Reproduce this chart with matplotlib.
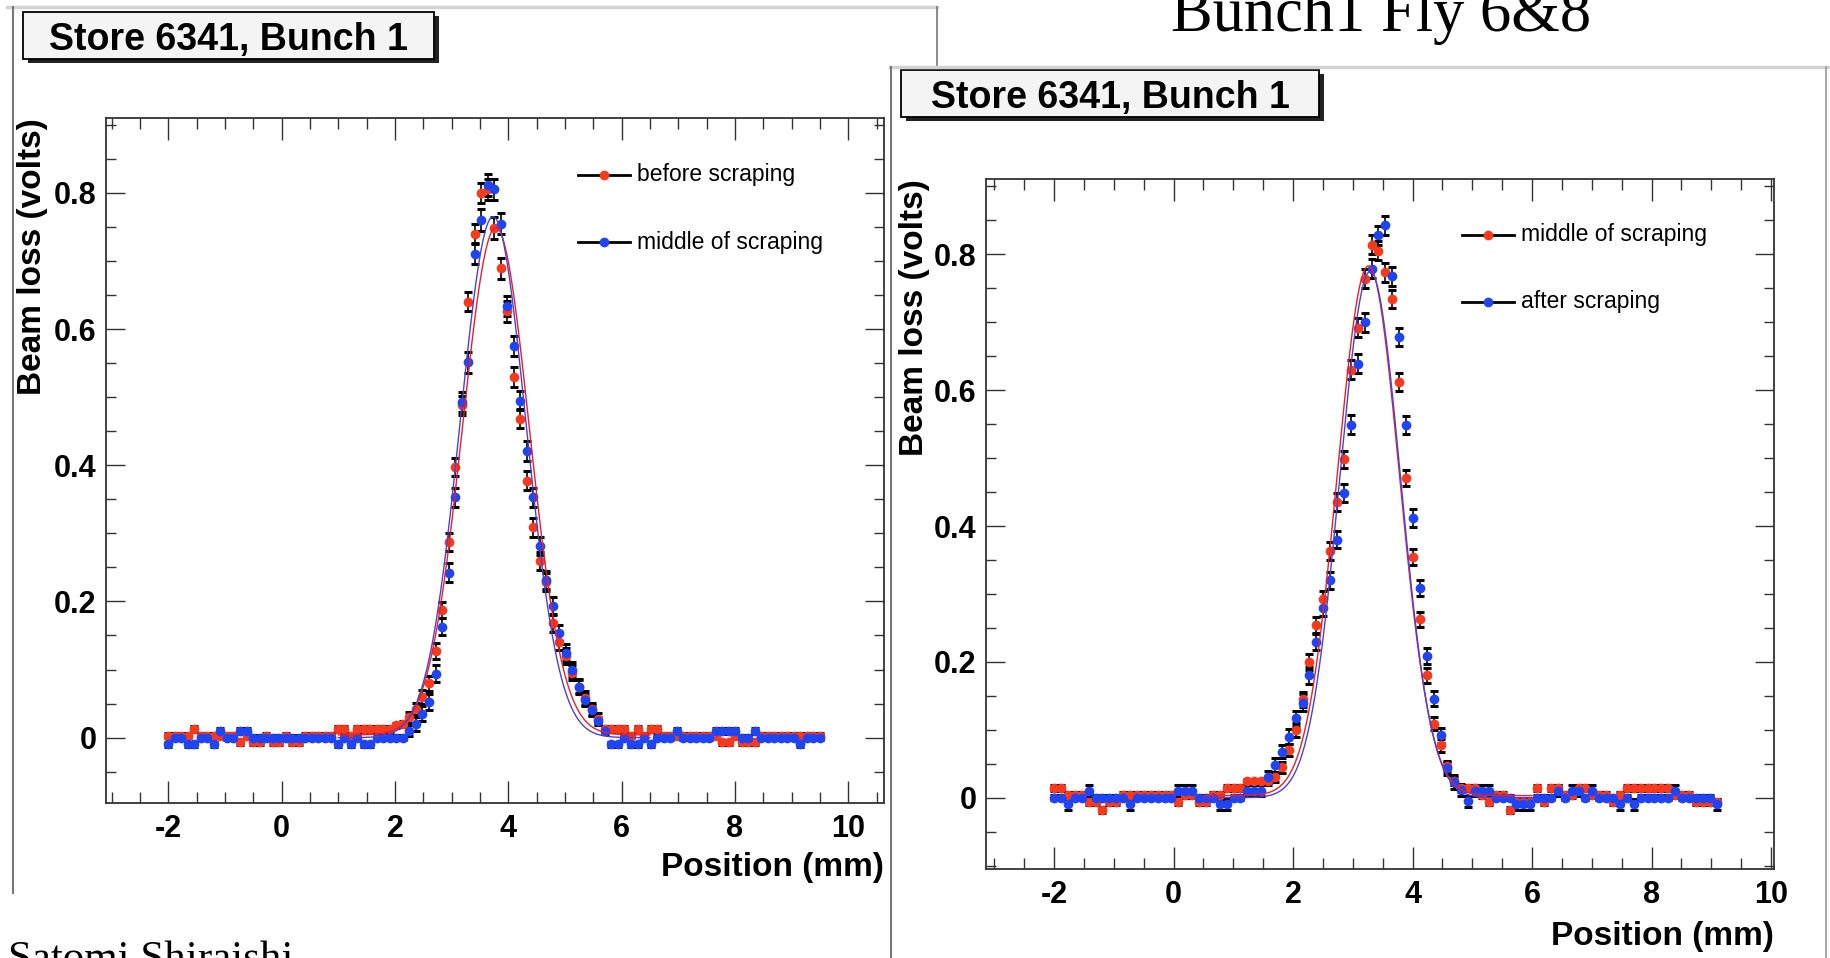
import numpy as np
import matplotlib.pyplot as plt
from matplotlib.patches import Rectangle
from matplotlib.lines import Line2D
from matplotlib.ticker import MultipleLocator, FuncFormatter

plt.rcParams['axes.unicode_minus'] = False
plt.rcParams['font.family'] = ['Liberation Sans', 'DejaVu Sans']

# ---- data: left pad (before / middle of scraping) ----
left_x0, left_step = -2.0, 0.115
before_vals = [0.003, 0.003, 0.003, 0.003, 0.013, 0.003, 0.003, 0.003, 0.003, 0.003,
               0.003, -0.007, 0.003, -0.007, -0.007, 0.003, -0.007, -0.007, 0.003, -0.007,
               -0.007, 0.003, 0.003, 0.003, 0.003, 0.003, 0.013, 0.013, 0.003, 0.013,
               0.013, 0.013, 0.013, 0.013, 0.013, 0.018, 0.02, 0.03, 0.042, 0.06,
               0.08, 0.127, 0.187, 0.287, 0.397, 0.488, 0.64, 0.74, 0.80, 0.805,
               0.748, 0.689, 0.626, 0.53, 0.468, 0.377, 0.309, 0.259, 0.229, 0.168,
               0.14, 0.12, 0.095, 0.075, 0.058, 0.042, 0.028, 0.013, 0.013, 0.013,
               0.013, 0.003, 0.013, 0.003, 0.013, 0.013, 0.003, 0.003, 0.003, 0.003,
               0.003, 0.003, 0.003, 0.003, 0.003, -0.007, -0.007, 0.003, -0.007, -0.007,
               -0.007, 0.003, 0.003, 0.003, 0.003, 0.003, 0.003, 0.003, 0.003, 0.003,
               0.003]
middle_vals = [-0.01, 0.0, 0.0, -0.01, -0.01, 0.0, 0.0, -0.01, 0.01, 0.0,
               0.0, 0.01, 0.01, 0.0, 0.0, 0.0, 0.0, 0.0, 0.0, 0.0,
               0.0, 0.0, 0.0, 0.0, 0.0, 0.0, -0.01, 0.0, -0.01, 0.0,
               -0.01, -0.01, 0.0, 0.0, 0.0, 0.0, 0.0, 0.01, 0.02, 0.035,
               0.052, 0.094, 0.163, 0.242, 0.353, 0.493, 0.551, 0.711, 0.760, 0.812,
               0.805, 0.755, 0.634, 0.575, 0.495, 0.421, 0.353, 0.281, 0.231, 0.193,
               0.154, 0.125, 0.10, 0.075, 0.055, 0.04, 0.025, 0.01, -0.01, -0.01,
               0.0, -0.01, -0.01, 0.0, -0.01, 0.0, 0.0, 0.0, 0.01, 0.0,
               0.0, 0.0, 0.0, 0.0, 0.01, 0.01, 0.01, 0.01, 0.0, 0.0,
               0.01, 0.0, 0.0, 0.0, 0.0, 0.0, 0.0, -0.01, 0.0, 0.0,
               0.0]
before_err = [0.004] * 37 + [0.008, 0.009, 0.01, 0.011, 0.012, 0.012, 0.013, 0.013, 0.014, 0.014,
                             0.015, 0.015, 0.016, 0.016, 0.015, 0.015, 0.015, 0.014, 0.014, 0.014,
                             0.013, 0.013, 0.013, 0.012, 0.012, 0.011, 0.011, 0.01, 0.009, 0.008] + [0.004] * 34
middle_err = [0.004] * 37 + [0.008, 0.01, 0.011, 0.012, 0.013, 0.013, 0.014, 0.014, 0.015, 0.015,
                             0.015, 0.016, 0.016, 0.016, 0.015, 0.015, 0.015, 0.014, 0.014, 0.014,
                             0.013, 0.013, 0.013, 0.012, 0.012, 0.011, 0.01, 0.009, 0.008, 0.006] + [0.004] * 34

# ---- data: right pad (middle / after scraping) ----
right_x0, right_step = -2.0, 0.1155
middle2_vals = [0.014, 0.014, 0.004, 0.004, 0.004, -0.007, -0.007, -0.018, -0.007, -0.007,
                0.004, 0.004, 0.004, 0.004, 0.004, 0.004, 0.004, 0.004, -0.007, 0.004,
                0.004, -0.007, -0.007, 0.004, 0.004, 0.014, 0.014, 0.014, 0.024, 0.024,
                0.024, 0.024, 0.03, 0.045, 0.07, 0.10, 0.145, 0.20, 0.254, 0.293,
                0.363, 0.435, 0.498, 0.63, 0.692, 0.764, 0.814, 0.805, 0.774, 0.734,
                0.612, 0.471, 0.354, 0.263, 0.18, 0.109, 0.077, 0.046, 0.024, 0.014,
                0.014, 0.014, 0.004, -0.007, 0.004, 0.004, -0.018, -0.007, -0.007, -0.007,
                0.014, -0.007, 0.014, 0.014, 0.004, 0.004, 0.014, 0.014, 0.004, 0.004,
                0.004, -0.007, 0.004, 0.014, 0.014, 0.014, 0.014, 0.014, 0.014, 0.014,
                0.004, 0.004, 0.004, -0.007, -0.007, -0.007, -0.007]
after_vals = [0.0, 0.0, -0.01, 0.0, 0.0, 0.01, 0.0, 0.0, 0.0, 0.0,
              0.0, -0.01, 0.0, 0.0, 0.0, 0.0, 0.0, 0.0, 0.01, 0.01,
              0.01, 0.0, 0.0, 0.0, -0.01, -0.01, 0.0, 0.0, 0.01, 0.01,
              0.01, 0.03, 0.048, 0.068, 0.09, 0.117, 0.14, 0.18, 0.229, 0.28,
              0.32, 0.38, 0.449, 0.549, 0.639, 0.70, 0.779, 0.828, 0.843, 0.768,
              0.678, 0.549, 0.412, 0.309, 0.209, 0.146, 0.092, 0.043, 0.023, 0.011,
              -0.005, 0.01, 0.01, 0.01, 0.0, 0.0, 0.0, -0.01, -0.01, -0.01,
              0.0, 0.0, 0.0, 0.01, 0.0, 0.01, 0.01, 0.0, 0.01, 0.0,
              0.0, 0.0, -0.01, 0.0, -0.01, 0.0, 0.0, 0.0, 0.0, 0.0,
              0.01, 0.0, 0.0, 0.0, 0.0, 0.0, -0.01]
middle2_err = [0.004] * 31 + [0.006, 0.007, 0.008, 0.009, 0.01, 0.011, 0.012, 0.012, 0.012, 0.013,
                              0.013, 0.013, 0.014, 0.014, 0.014, 0.014, 0.014, 0.014, 0.013, 0.013,
                              0.012, 0.012, 0.011, 0.011, 0.01, 0.009, 0.008, 0.006, 0.005, 0.004] + [0.004] * 36
after_err = [0.004, 0.004, 0.008, 0.004, 0.004, 0.008, 0.004, 0.004, 0.004, 0.004,
             0.004, 0.008, 0.004, 0.004, 0.004, 0.004, 0.004, 0.004, 0.008, 0.008,
             0.008, 0.004, 0.004, 0.004, 0.008, 0.008, 0.004, 0.004, 0.008, 0.008,
             0.008,
             0.009, 0.01, 0.01, 0.011, 0.011, 0.012, 0.012, 0.012, 0.013, 0.013,
             0.013, 0.013, 0.014, 0.014, 0.014, 0.014, 0.014, 0.014, 0.014, 0.013,
             0.013, 0.013, 0.012, 0.012, 0.011, 0.011, 0.01, 0.01, 0.009, 0.008,
             0.008, 0.008, 0.008, 0.004, 0.004, 0.004, 0.008, 0.008, 0.008, 0.004,
             0.004, 0.004, 0.008, 0.004, 0.008, 0.008, 0.004, 0.008, 0.004, 0.004,
             0.004, 0.008, 0.004, 0.008, 0.004, 0.004, 0.004, 0.004, 0.004, 0.008,
             0.004, 0.004, 0.004, 0.004, 0.004, 0.008]

# gaussian fit parameters: amplitude, mean, sigma, offset, range
fit_before = (0.745, 3.78, 0.59, 0.004, 1.0, 6.5)
fit_middle = (0.765, 3.73, 0.58, 0.0, 1.0, 6.5)
fit_middle2 = (0.78, 3.26, 0.52, 0.003, 0.5, 6.0)
fit_after = (0.775, 3.29, 0.51, 0.0, 0.5, 6.0)

RED = '#f8391c'
BLUE = '#1f44f4'
RED_FIT = '#e8202a'
BLUE_FIT = '#5040d0'

W, H = 1830, 958
fig = plt.figure(figsize=(W / 100, H / 100), dpi=100)


def fx(px):
    return px / W


def fy(py):
    return 1 - py / H


def fline(x0, y0, x1, y1, **kw):
    fig.add_artist(Line2D([fx(x0), fx(x1)], [fy(y0), fy(y1)], transform=fig.transFigure, **kw))


# pad borders (two overlapping ROOT canvases)
fline(7, 7, 937, 7, color='#d2d2d2', lw=2.5)
fline(13, 7, 13, 893, color='#777777', lw=1.5)
fline(937, 7, 937, 67, color='#777777', lw=1.2)
fline(890, 67, 1830, 67, color='#d2d2d2', lw=2.5)
fline(891, 67, 891, 958, color='#777777', lw=1.5)
fline(1826, 67, 1826, 958, color='#999999', lw=1.2)


def title_box(x0, y0, x1, y1, text):
    shadow = Rectangle((fx(x0 + 5), fy(y1 + 4)), (x1 - x0) / W, (y1 - y0) / H,
                       transform=fig.transFigure, facecolor='#222222', edgecolor='none')
    box = Rectangle((fx(x0), fy(y1)), (x1 - x0) / W, (y1 - y0) / H,
                    transform=fig.transFigure, facecolor='#f4f4f4', edgecolor='black', lw=1.3)
    fig.add_artist(shadow)
    fig.add_artist(box)
    fig.text(fx((x0 + x1) / 2), fy((y0 + y1) / 2), text, ha='center', va='center_baseline',
             fontsize=27, fontweight='bold')


title_box(23, 12, 434, 59, 'Store 6341, Bunch 1')
title_box(901, 70, 1319, 117, 'Store 6341, Bunch 1')


def gauss(p):
    amp, mu, sig, off, a, b = p
    xs = np.linspace(a, b, 400)
    return xs, off + amp * np.exp(-0.5 * ((xs - mu) / sig) ** 2)


def setup_axes(box, xlim, ylim):
    l, t, r, b = box
    ax = fig.add_axes([fx(l), fy(b), (r - l) / W, (b - t) / H])
    ax.set_xlim(*xlim)
    ax.set_ylim(*ylim)
    ax.xaxis.set_major_locator(MultipleLocator(2))
    ax.xaxis.set_minor_locator(MultipleLocator(0.5))
    ax.yaxis.set_major_locator(MultipleLocator(0.2))
    ax.yaxis.set_minor_locator(MultipleLocator(0.05))
    ax.yaxis.set_major_formatter(FuncFormatter(lambda v, _: '0' if abs(v) < 1e-9 else f'{v:.1f}'))
    ax.tick_params(which='both', direction='in', top=True, right=True, color='#333333', width=1.0)
    ax.tick_params(axis='x', which='major', length=15.8, pad=8)
    ax.tick_params(axis='x', which='minor', length=7.9)
    ax.tick_params(axis='y', which='major', length=13.7, pad=7)
    ax.tick_params(axis='y', which='minor', length=7.2)
    for lab in ax.get_xticklabels() + ax.get_yticklabels():
        lab.set_fontsize(22)
        lab.set_fontweight('bold')
    for s in ax.spines.values():
        s.set_color('#333333')
        s.set_linewidth(1.3)
    return ax


def draw_series(ax, x0, step, vals, errs, color):
    xs = x0 + step * np.arange(len(vals))
    ax.errorbar(xs, vals, yerr=errs, fmt='none', ecolor='black', elinewidth=1.2,
                capsize=2.8, capthick=2.2, zorder=2)
    ax.plot(xs, vals, 'o', ms=7, mew=0, color=color, zorder=3)


def legend_entry(x0, x1, y, color, label):
    fline(x0, y, x1, y, color='black', lw=2.0)
    fig.add_artist(Line2D([fx((x0 + x1) / 2)], [fy(y)], transform=fig.transFigure,
                          marker='o', ms=7, mew=0, color=color, linestyle='none'))
    fig.text(fx(x1 + 7), fy(y), label, ha='left', va='center', fontsize=16.5)


# left pad
ax1 = setup_axes((106, 118, 884, 803), (-3.1, 10.63), (-0.096, 0.91))
draw_series(ax1, left_x0, left_step, before_vals, before_err, RED)
draw_series(ax1, left_x0, left_step, middle_vals, middle_err, BLUE)
xs, ys = gauss(fit_before)
ax1.plot(xs, ys, color=RED_FIT, lw=1.0, zorder=4)
xs, ys = gauss(fit_middle)
ax1.plot(xs, ys, color=BLUE_FIT, lw=1.0, zorder=4)
legend_entry(578, 630, 175, RED, 'before scraping')
legend_entry(578, 630, 242, BLUE, 'middle of scraping')
fig.text(fx(33), fy(118), 'Beam loss (volts)', rotation=90, ha='center', va='top',
         fontsize=24, fontweight='bold')
fig.text(fx(884), fy(876), 'Position (mm)', ha='right', va='baseline',
         fontsize=24, fontweight='bold')

# right pad
ax2 = setup_axes((986, 179, 1774, 869), (-3.14, 10.05), (-0.105, 0.911))
draw_series(ax2, right_x0, right_step, middle2_vals, middle2_err, RED)
draw_series(ax2, right_x0, right_step, after_vals, after_err, BLUE)
xs, ys = gauss(fit_middle2)
ax2.plot(xs, ys, color=RED_FIT, lw=1.0, zorder=4)
xs, ys = gauss(fit_after)
ax2.plot(xs, ys, color=BLUE_FIT, lw=1.0, zorder=4)
legend_entry(1462, 1514, 235, RED, 'middle of scraping')
legend_entry(1462, 1514, 302, BLUE, 'after scraping')
fig.text(fx(914), fy(179), 'Beam loss (volts)', rotation=90, ha='center', va='top',
         fontsize=24, fontweight='bold')
fig.text(fx(1774), fy(945), 'Position (mm)', ha='right', va='baseline',
         fontsize=24, fontweight='bold')

# slide texts
fig.text(fx(1381), fy(31), 'Bunch1 Fly 6&8', ha='center', va='baseline',
         fontsize=45, family='Liberation Serif')
fig.text(fx(8), fy(970), 'Satomi Shiraishi', ha='left', va='baseline',
         fontsize=31, family='Liberation Serif')

fig.savefig('out.png', dpi=100)
